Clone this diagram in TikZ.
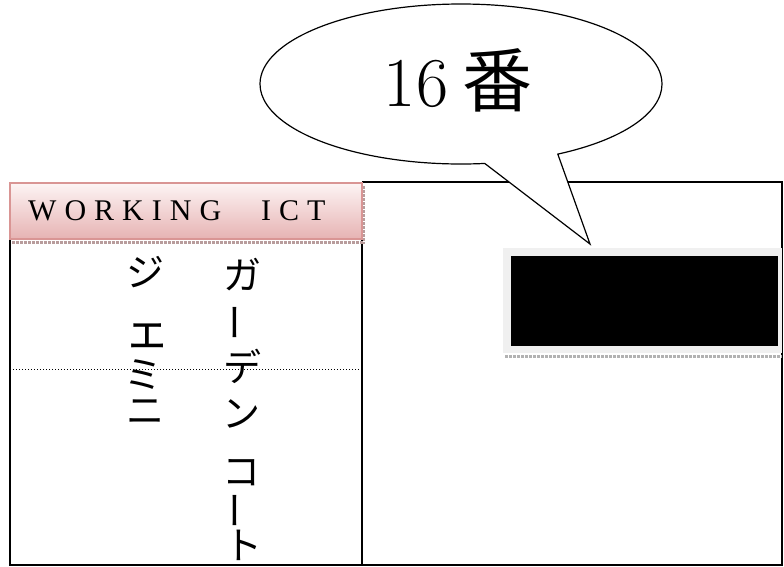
\documentclass[tikz,border=0pt]{standalone}
\usepackage{fontspec}
\newfontfamily\cjk{Noto Sans CJK JP}
\newfontfamily\hdrfont{Liberation Serif}
\usetikzlibrary{shapes.callouts}
\definecolor{pinkedge}{HTML}{D99594}
\definecolor{pinktop}{HTML}{FDF4F4}
\definecolor{pinkbot}{HTML}{E6B3B3}
\definecolor{fringe}{HTML}{B89C9C}
\definecolor{grayframe}{HTML}{F0F0F0}
\tikzset{
  tline/.style={line width=1.6pt, black},
  vchar/.style={font=\cjk\fontsize{38}{42}\selectfont, inner sep=0pt},
  bubble/.style={ellipse callout, draw=black, fill=white, line width=1.2pt,
    minimum width=402pt, minimum height=160pt, inner sep=0pt,
    callout pointer arc=22},
}
\newcommand{\ks}{\kern8pt}
\begin{document}
\begin{tikzpicture}[x=1pt,y=-1pt]
\useasboundingbox (0,0) rectangle (784,566);
% table frame
\coordinate (tl) at (10,240);
\coordinate (tm) at (362,182);
\coordinate (tr) at (782,182);
\coordinate (br) at (782,565);
\coordinate (bm) at (362,565);
\coordinate (bl) at (10,565);
\draw[tline] (tm) -- (tr) -- (br) -- (bl) -- (tl);
\draw[tline] (tm) -- (bm);
\coordinate (dl) at (10,369);
\coordinate (dr) at (362,369);
\draw[line width=1pt, dotted] (dl) -- (dr);
% header
\shade[top color=pinktop, bottom color=pinkbot] (10,183) rectangle (362,239);
\draw[pinkedge, line width=1.6pt] (10,183) rectangle (362,239);
\draw[fringe, line width=3pt, dash pattern=on 3pt off 1pt] (12,242.5) -- (364,242.5);
\draw[fringe, line width=2pt, dash pattern=on 3pt off 1pt] (364,186) -- (364,244);
\node[font=\hdrfont\fontsize{30}{32}\selectfont, anchor=base west, inner sep=0pt]
  (hdr) at (28,220) {W\ks O\ks R\ks K\ks I\ks N\ks G\kern40pt I\ks C\ks T};
% vertical texts
\node[vchar] (j1) at (145,272) {ジ};
\node[vchar, font=\cjk\fontsize{46}{48}\selectfont] (j2) at (147,336) {ェ};
\node[vchar] (j3) at (143,375) {ミ};
\node[vchar] (j4) at (145,412) {ニ};
\node[vchar] (g1) at (242,275) {ガ};
\node[vchar, rotate=90] (g2) at (241,322) {ー};
\node[vchar] (g3) at (242,366) {デ};
\node[vchar] (g4) at (241,414) {ン};
\node[vchar] (g5) at (241,473) {コ};
\node[vchar, rotate=90] (g6) at (241,510) {ー};
\node[vchar] (g7) at (243,545) {ト};
% black box
\fill[grayframe] (503,248) rectangle (782,353);
\fill[black] (511,256) rectangle (778,346);
\draw[gray!60, line width=3pt, dash pattern=on 3pt off 1pt] (505,356.5) -- (782,356.5);
\node[inner sep=0pt, minimum width=279pt, minimum height=105pt] (blk) at (642.5,300.5) {};
% callout
\coordinate (tip) at (590,244);
\node[bubble, callout absolute pointer={(tip)}] (bub) at (461,84) {};
\node[inner sep=0pt] (num) at (458,80) {\fontsize{70}{74}\selectfont 16\kern14pt{\cjk 番}};
\end{tikzpicture}
\end{document}
